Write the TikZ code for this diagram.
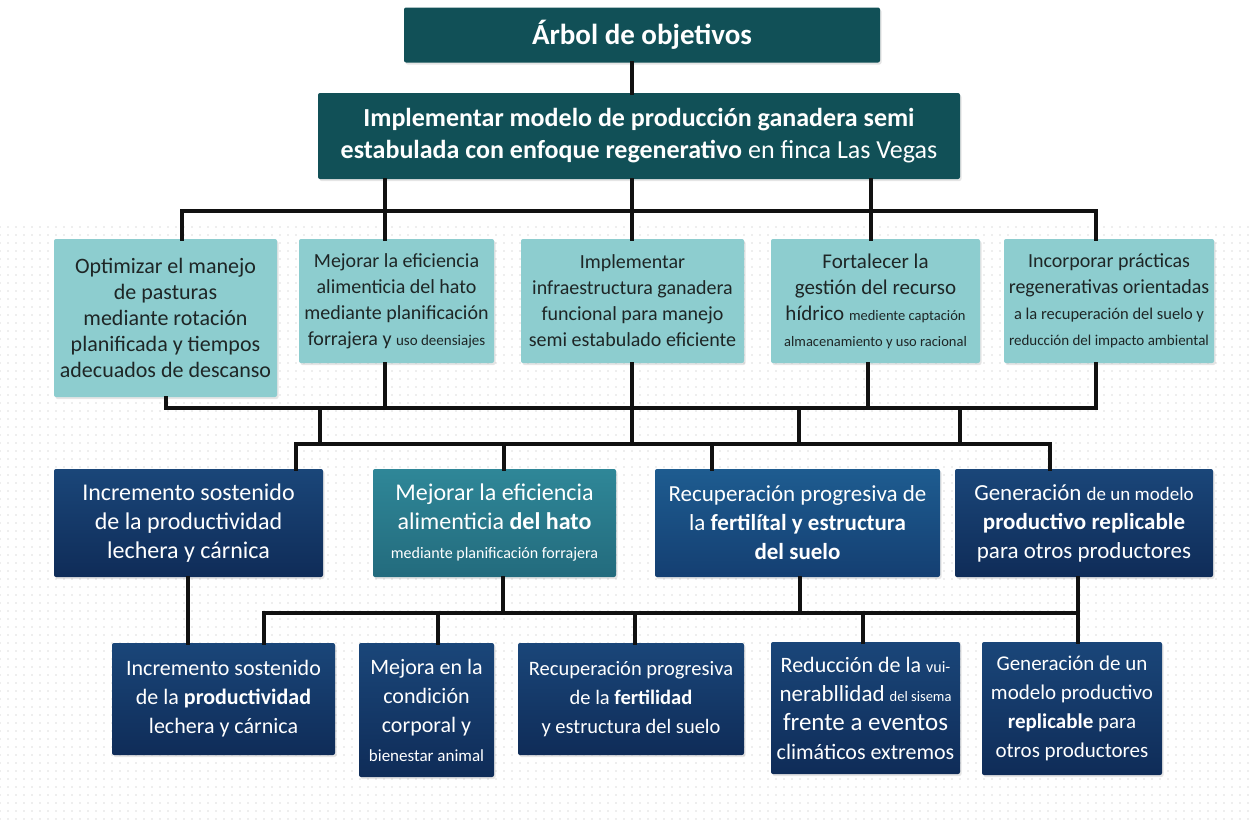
\documentclass[tikz,border=0pt]{standalone}
\usepackage{fontspec}
\setmainfont{Carlito}
\usetikzlibrary{patterns,shadows}

\definecolor{deepteal}{HTML}{115057}
\definecolor{paleteal}{HTML}{8DCDCF}
\definecolor{darkink}{HTML}{1E2626}
\definecolor{navytop}{HTML}{1A4679}
\definecolor{navybot}{HTML}{0F2C58}
\definecolor{tealtop}{HTML}{2F8798}
\definecolor{tealbot}{HTML}{236B7D}
\definecolor{bluetop}{HTML}{1E5C90}
\definecolor{bluebot}{HTML}{143F72}
\definecolor{linkcol}{HTML}{111111}

\pgfdeclarepatternformonly{bgdots}{\pgfqpoint{-1pt}{-1pt}}{\pgfqpoint{1pt}{1pt}}{\pgfqpoint{8pt}{8pt}}%
  {\pgfpathcircle{\pgfqpoint{0pt}{0pt}}{0.8pt}\pgfusepath{fill}}

\newcommand\fs[2]{{\fontsize{#1}{#1}\selectfont #2}}

\begin{document}
\begin{tikzpicture}[x=1pt,y=-1pt,
    box/.style={rectangle,rounded corners=2pt,inner sep=0pt,align=center,
      drop shadow={shadow xshift=1.5pt,shadow yshift=-2pt,opacity=0.2}},
    headbox/.style={box,fill=deepteal,text=white},
    aimbox/.style={box,fill=paleteal,text=darkink,font=\fontsize{20}{26}\selectfont},
    navybox/.style={box,top color=navytop,bottom color=navybot,text=white},
    link/.style={draw=linkcol,line width=3.4pt,line cap=rect}]

  \useasboundingbox (0,0) rectangle (1255,819);
  \fill[white] (0,0) rectangle (1255,819);
  \fill[pattern=bgdots,pattern color=black!13] (0,222) rectangle (1255,819);

  % tree head
  \node[headbox,minimum width=476pt,minimum height=55pt,
        font=\fontsize{29}{35}\selectfont\bfseries] (title) at (642,35) {Árbol de objetivos};
  \node[headbox,minimum width=642pt,minimum height=86pt,
        font=\fontsize{26}{32}\selectfont] (goal) at (639,136)
        {\textbf{Implementar modelo de producción ganadera semi}\\
         \textbf{estabulada con enfoque regenerativo} en finca Las Vegas};

  % specific objectives
  \node[aimbox,minimum width=223pt,minimum height=158pt,
        font=\fontsize{22}{26}\selectfont] (o1) at (165.5,318)
        {Optimizar el manejo\\ de pasturas\\ mediante rotación\\ planificada y tiempos\\ adecuados de descanso};
  \node[aimbox,minimum width=195pt,minimum height=124pt] (o2) at (396.5,301)
        {Mejorar la eficiencia\\ alimenticia del hato\\ mediante planificación\\ forrajera y \fs{15}{uso deensiajes}};
  \node[aimbox,minimum width=223pt,minimum height=124pt] (o3) at (632.5,301)
        {Implementar\\ infraestructura ganadera\\ funcional para manejo\\ semi estabulado eficiente};
  \node[aimbox,minimum width=209pt,minimum height=124pt,
        font=\fontsize{21}{26}\selectfont] (o4) at (875.5,301)
        {Fortalecer la\\ gestión del recurso\\ hídrico \fs{14.5}{mediente captación}\\ \fs{14.5}{almacenamiento y uso racional}};
  \node[aimbox,minimum width=210pt,minimum height=124pt] (o5) at (1109,301)
        {Incorporar prácticas\\ regenerativas orientadas\\ \fs{16.5}{a la recuperación del suelo y}\\ \fs{15}{reducción del impacto ambiental}};

  % results
  \node[navybox,minimum width=269pt,minimum height=108pt,
        font=\fontsize{24}{29}\selectfont] (r1) at (188.5,523)
        {Incremento sostenido\\ de la productividad\\ lechera y cárnica};
  \node[navybox,top color=tealtop,bottom color=tealbot,minimum width=243pt,minimum height=108pt,
        font=\fontsize{24}{29}\selectfont] (r2) at (494.5,523)
        {Mejorar la eficiencia\\ alimenticia \textbf{del hato}\\ \fs{16}{mediante planificación forrajera}};
  \node[navybox,top color=bluetop,bottom color=bluebot,minimum width=285pt,minimum height=108pt,
        font=\fontsize{23}{29}\selectfont] (r3) at (797.5,523)
        {Recuperación progresiva de\\ la \textbf{fertilítal y estructura}\\ \textbf{del suelo}};
  \node[navybox,minimum width=258pt,minimum height=108pt,
        font=\fontsize{23}{29}\selectfont] (r4) at (1084,523)
        {Generación \fs{19}{de un modelo}\\ \textbf{productivo replicable}\\ para otros productores};

  % effects
  \node[navybox,minimum width=223pt,minimum height=112pt,
        font=\fontsize{22}{29}\selectfont] (e1) at (223.5,699)
        {Incremento sostenido\\ de la \textbf{productividad}\\ lechera y cárnica};
  \node[navybox,minimum width=135pt,minimum height=134pt,
        font=\fontsize{22}{29}\selectfont] (e2) at (426.5,710)
        {Mejora en la\\ condición\\ corporal y\\ \fs{17}{bienestar animal}};
  \node[navybox,minimum width=226pt,minimum height=112pt,
        font=\fontsize{20.5}{29}\selectfont] (e3) at (631,699)
        {Recuperación progresiva\\ de la \textbf{fertilidad}\\ y estructura del suelo};
  \node[navybox,minimum width=189pt,minimum height=132pt,
        font=\fontsize{22}{29}\selectfont] (e4) at (865.5,708)
        {Reducción de la \fs{16}{vui-}\\ \fs{23}{nerabllidad} \fs{14.5}{del sisema}\\ \fs{25}{frente a eventos}\\ climáticos extremos};
  \node[navybox,minimum width=180pt,minimum height=133pt,
        font=\fontsize{21}{29}\selectfont] (e5) at (1072,708.5)
        {Generación de un\\ modelo productivo\\ \textbf{replicable} para\\ otros productores};

  % junctions
  \coordinate (k1) at (182,211);  \coordinate (k2) at (385,211);
  \coordinate (k3) at (632,211);  \coordinate (k4) at (871,211);
  \coordinate (k5) at (1096,211);
  \coordinate (m1) at (166,408);  \coordinate (m4) at (868,408);
  \coordinate (m5) at (1096,408);
  \coordinate (q1) at (320,444);  \coordinate (q2) at (799,444);
  \coordinate (q3) at (960,444);
  \coordinate (p1) at (296,444);  \coordinate (p2) at (504,444);
  \coordinate (p3) at (712,444);  \coordinate (p4) at (1050,444);
  \coordinate (a1) at (188,613);
  \coordinate (s1) at (264,613);  \coordinate (s2) at (438,613);
  \coordinate (s3) at (635,613);  \coordinate (s4) at (863,613);
  \coordinate (s5) at (1078,613);
  \coordinate (t2) at (503,613);  \coordinate (t3) at (800,613);

  % head to objectives
  \draw[link] (title.south -| k3) -- (goal.north -| k3);
  \draw[link] (k1) -- (k5);
  \draw[link] (goal.south -| k2) -- (o2.north -| k2);
  \draw[link] (goal.south -| k3) -- (o3.north -| k3);
  \draw[link] (goal.south -| k4) -- (o4.north -| k4);
  \draw[link] (k1) -- (o1.north -| k1);
  \draw[link] (k5) -- (o5.north -| k5);

  % objectives to results
  \draw[link] (m1) -- (m5);
  \draw[link] (o1.south -| m1) -- (m1);
  \draw[link] (o2.south -| k2) -- (k2 |- m1);
  \draw[link] (o3.south -| k3) -- (k3 |- p1);
  \draw[link] (o4.south -| m4) -- (m4);
  \draw[link] (o5.south -| m5) -- (m5);
  \draw[link] (q1 |- m1) -- (q1);
  \draw[link] (q2 |- m1) -- (q2);
  \draw[link] (q3 |- m1) -- (q3);
  \draw[link] (p1) -- (p4);
  \draw[link] (p1) -- (r1.north -| p1);
  \draw[link] (p2) -- (r2.north -| p2);
  \draw[link] (p3) -- (r3.north -| p3);
  \draw[link] (p4) -- (r4.north -| p4);

  % results to effects
  \draw[link] (r1.south -| a1) -- (e1.north -| a1);
  \draw[link] (r2.south -| t2) -- (t2);
  \draw[link] (r3.south -| t3) -- (t3);
  \draw[link] (r4.south -| s5) -- (s5);
  \draw[link] (s1) -- (s5);
  \draw[link] (s1) -- (e1.north -| s1);
  \draw[link] (s2) -- (e2.north -| s2);
  \draw[link] (s3) -- (e3.north -| s3);
  \draw[link] (s4) -- (e4.north -| s4);
  \draw[link] (s5) -- (e5.north -| s5);
\end{tikzpicture}
\end{document}
